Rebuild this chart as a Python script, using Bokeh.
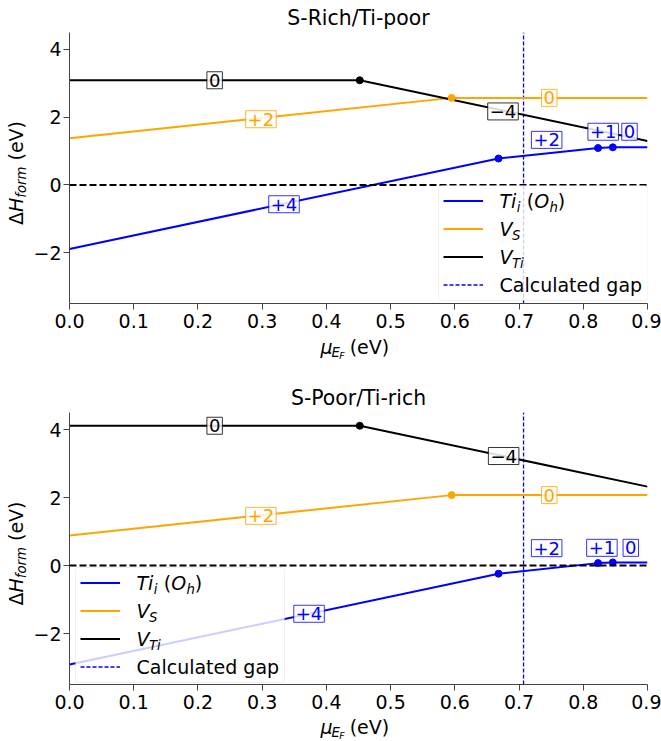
import math
from bokeh.plotting import figure
from bokeh.layouts import column, row
from bokeh.models import (Span, Label, Legend, LegendItem, FixedTicker,
                          NumeralTickFormatter, Range1d, BoxAnnotation)
from bokeh.core.properties import value
from bokeh.embed import file_html
from bokeh.resources import INLINE

# ---------------- data ----------------
X_MIN, X_MAX = 0.0, 0.9
Y_MIN, Y_MAX = -3.5, 4.5
GAP = 0.707

x_ticks = [0.0, 0.1, 0.2, 0.3, 0.4, 0.5, 0.6, 0.7, 0.8, 0.9]
y_ticks = [-2, 0, 2, 4]
y_tick_labels = ["\u22122", "0", "2", "4"]

# breakpoints of the formation-energy curves (Fermi level, eV)
ti_x = [0.0, 0.668, 0.823, 0.846, 0.9]
vs_x = [0.0, 0.595, 0.9]
vti_x = [0.0, 0.452, 0.9]

# S-rich / Ti-poor
rich_ti_y = [-1.89, 0.78, 1.09, 1.11, 1.11]
rich_vs_y = [1.38, 2.57, 2.57]
rich_vti_y = [3.09, 3.09, 1.30]

# S-poor / Ti-rich
poor_ti_y = [-2.91, -0.24, 0.07, 0.09, 0.09]
poor_vs_y = [0.88, 2.07, 2.07]
poor_vti_y = [4.11, 4.11, 2.32]

# charge-state labels
rich_ti_lab_x = [0.334, 0.743, 0.831, 0.872]
rich_ti_lab_y = [-0.57, 1.33, 1.57, 1.57]
ti_lab = ["+4", "+2", "+1", "0"]
rich_vs_lab_x = [0.298, 0.747]
rich_vs_lab_y = [1.94, 2.57]
vs_lab = ["+2", "0"]
rich_vti_lab_x = [0.226, 0.675]
rich_vti_lab_y = [3.09, 2.17]
vti_lab = ["0", "\u22124"]

poor_ti_lab_x = [0.373, 0.743, 0.829, 0.874]
poor_ti_lab_y = [-1.42, 0.51, 0.52, 0.52]
poor_vs_lab_x = [0.298, 0.747]
poor_vs_lab_y = [1.46, 2.07]
poor_vti_lab_x = [0.226, 0.676]
poor_vti_lab_y = [4.11, 3.22]

BLUE = "#0000ff"
ORANGE = "#ffa500"
BLACK = "#000000"
FONT = "DejaVu Sans"
F = 19.0
SUB = 13.3
SUBSUB = 9.3
BASE_CORR = 0.346  # empirical shift of the alphabetic baseline (fraction of size)

YLW = 30          # width of the y-label strip
FL = 68           # page x of the frame's left edge
FW = 579
FR = 14
MAIN_W = FL - YLW + FW + FR
BB = 32           # bottom border of the main figures


def text_fig(w, h):
    f = figure(width=w, height=h, x_range=Range1d(0, w), y_range=Range1d(0, h),
               x_axis_type=None, y_axis_type=None, min_border=0,
               output_backend="svg", toolbar_location=None)
    f.outline_line_color = None
    f.xgrid.visible = False
    f.ygrid.visible = False
    return f


def gtxt(f, h, X, Y, t, size, italic=False, rotated=False):
    c = BASE_CORR * size
    if rotated:
        X = X - c
        ang = math.pi / 2
    else:
        Y = Y - c
        ang = 0.0
    f.text(x=[X], y=[h - Y], text=[t], text_font=value(FONT),
           text_font_size=value(f"{size}px"),
           text_font_style="italic" if italic else "normal",
           angle=ang, text_align="left", text_baseline="alphabetic",
           text_color="black")


def make_block(title, ti_y, vs_y, vti_y, labs, FT, FH, H, xl_drop, box_left, box_top):
    FB = FT + FH
    main_h = FB + BB
    xl_h = H - main_h
    p = figure(x_range=Range1d(X_MIN, X_MAX), y_range=Range1d(Y_MIN, Y_MAX),
               width=MAIN_W, height=main_h,
               min_border_left=FL - YLW, min_border_right=FR,
               min_border_top=FT, min_border_bottom=BB,
               output_backend="svg", toolbar_location=None)
    p.outline_line_color = None
    p.xgrid.visible = False
    p.ygrid.visible = False

    p.title.text = title
    p.title.align = "center"
    p.title.text_font = FONT
    p.title.text_font_size = "20.4px"
    p.title.text_font_style = "normal"
    p.title.text_color = "black"
    p.title.standoff = 6

    p.xaxis.ticker = FixedTicker(ticks=x_ticks)
    p.xaxis.formatter = NumeralTickFormatter(format="0.0")
    p.yaxis.ticker = FixedTicker(ticks=y_ticks)
    p.yaxis.major_label_overrides = dict(zip(y_ticks, y_tick_labels))
    for ax in (p.xaxis[0], p.yaxis[0]):
        ax.axis_line_color = "#444444"
        ax.axis_line_width = 1
        ax.major_tick_line_color = "#444444"
        ax.major_tick_out = 6
        ax.major_tick_in = 0
        ax.minor_tick_line_color = None
        ax.major_label_text_font = FONT
        ax.major_label_text_font_size = "19px"
        ax.major_label_text_color = "black"
    p.xaxis[0].major_label_standoff = 4
    p.yaxis[0].major_label_standoff = 2

    def sx(X):
        return X - FL

    def sy(Y):
        return FB - Y

    def txt(X, Y, t, size, italic=False):
        Y = Y - BASE_CORR * size
        p.add_layout(Label(x=sx(X), y=sy(Y), x_units="screen", y_units="screen",
                           text=t, text_font=FONT, text_font_size=f"{size}px",
                           text_font_style="italic" if italic else "normal",
                           text_align="left", text_baseline="alphabetic",
                           text_color="black"))

    # zero line
    p.add_layout(Span(location=0, dimension="width", line_color="black",
                      line_dash="7 3", line_width=2))

    # gap line
    r_gap = p.segment(x0=[GAP], y0=[Y_MIN], x1=[GAP], y1=[Y_MAX], line_color=BLUE,
                      line_dash="4 2", line_width=1.3)

    r_ti = p.line(ti_x, ti_y, line_color=BLUE, line_width=2)
    r_vs = p.line(vs_x, vs_y, line_color=ORANGE, line_width=2)
    r_vti = p.line(vti_x, vti_y, line_color=BLACK, line_width=2)
    p.scatter(ti_x[1:-1], ti_y[1:-1], size=7, color=BLUE)
    p.scatter(vs_x[1:-1], vs_y[1:-1], size=7, color=ORANGE)
    p.scatter(vti_x[1:-1], vti_y[1:-1], size=7, color=BLACK)

    for (lx, ly, lt, c) in labs:
        p.text(x=lx, y=ly, text=lt, text_color=c, text_font=value(FONT),
               text_font_size=value("18px"), text_align="center",
               text_baseline="middle", background_fill_color="white",
               background_fill_alpha=0.85, border_line_color=c,
               border_line_alpha=0.8, border_line_width=1, padding=2)

    # legend frame
    box_w, box_h = 209, 115
    p.add_layout(BoxAnnotation(left=sx(box_left), right=sx(box_left + box_w),
                               top=sy(box_top), bottom=sy(box_top + box_h),
                               left_units="screen", right_units="screen",
                               top_units="screen", bottom_units="screen",
                               fill_color="white", fill_alpha=0.8,
                               line_color="#cccccc", line_width=1,
                               border_radius=3))
    legend = Legend(items=[LegendItem(label=" ", renderers=[r_ti]),
                           LegendItem(label=" ", renderers=[r_vs]),
                           LegendItem(label=" ", renderers=[r_vti]),
                           LegendItem(label=" ", renderers=[r_gap])],
                    location=(sx(box_left), sy(box_top + box_h)),
                    padding=5, spacing=7, glyph_width=40, glyph_height=21,
                    label_width=143, label_height=21, label_standoff=16,
                    margin=0, label_text_font_size="8px",
                    border_line_alpha=0, background_fill_alpha=0)
    p.add_layout(legend)

    X0 = box_left + 61
    rows = [box_top + 15.5 + 28 * i + 7 for i in range(4)]
    b = rows[0]
    txt(X0, b, "Ti", F, True)
    txt(X0 + 17.3, b + 4.5, "i", SUB, True)
    txt(X0 + 27.2, b, "(", F)
    txt(X0 + 34.7, b, "O", F, True)
    txt(X0 + 49.9, b + 4.5, "h", SUB, True)
    txt(X0 + 58.3, b, ")", F)
    b = rows[1]
    txt(X0, b, "V", F, True)
    txt(X0 + 12.5, b + 4.5, "S", SUB, True)
    b = rows[2]
    txt(X0, b, "V", F, True)
    txt(X0 + 12.5, b + 4.5, "Ti", SUB, True)
    txt(X0, rows[3], "Calculated gap", F)

    # x label strip (below the main figure)
    xf = text_fig(MAIN_W, xl_h)
    xs0 = 304 - YLW
    xb = FB + xl_drop - main_h
    gtxt(xf, xl_h, xs0, xb, "\u03bc", F, True)
    gtxt(xf, xl_h, xs0 + 12.1, xb + 3.5, "E", SUB, True)
    gtxt(xf, xl_h, xs0 + 20.5, xb + 5.0, "F", SUBSUB, True)
    gtxt(xf, xl_h, xs0 + 31.9, xb, "(eV)", F)

    # y label strip (rotated)
    yf = text_fig(YLW, H)
    yc = FT + FH / 2
    ys0 = yc + 57
    gtxt(yf, H, 22.5, ys0, "\u0394", F, False, True)
    gtxt(yf, H, 22.5, ys0 - 13.0, "H", F, True, True)
    gtxt(yf, H, 26.0, ys0 - 27.3, "form", SUB, True, True)
    gtxt(yf, H, 22.5, ys0 - 64.5, "(eV)", F, False, True)

    return row(yf, column(p, xf, spacing=0), spacing=0)


b1 = make_block("S-Rich/Ti-poor", rich_ti_y, rich_vs_y, rich_vti_y,
                [(rich_ti_lab_x, rich_ti_lab_y, ti_lab, BLUE),
                 (rich_vs_lab_x, rich_vs_lab_y, vs_lab, ORANGE),
                 (rich_vti_lab_x, rich_vti_lab_y, vti_lab, BLACK)],
                FT=32, FH=271, H=370, xl_drop=50, box_left=437, box_top=185)
b2 = make_block("S-Poor/Ti-rich", poor_ti_y, poor_vs_y, poor_vti_y,
                [(poor_ti_lab_x, poor_ti_lab_y, ti_lab, BLUE),
                 (poor_vs_lab_x, poor_vs_lab_y, vs_lab, ORANGE),
                 (poor_vti_lab_x, poor_vti_lab_y, vti_lab, BLACK)],
                FT=42, FH=272, H=371, xl_drop=49.5, box_left=74, box_top=197)

page = column(b1, b2, spacing=0)
open("out.html", "w").write(file_html(page, INLINE))
